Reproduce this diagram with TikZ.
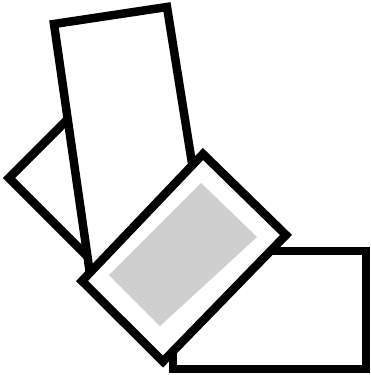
\documentclass[tikz,border=0pt]{standalone}
\usepackage{tikz}
\tikzset{
  card/.style={draw=black, fill=white, line width=8.5pt, line join=miter},
  speck/.style={fill=black!19, draw=none}
}

\begin{document}
\begin{tikzpicture}[x=1pt,y=-1pt]
  \useasboundingbox (0,0) rectangle (370,375);

  % corners, in pixel units of the reference
  \coordinate (kiteL) at (9,178);
  \coordinate (kiteU) at (86.8,100.2);
  \coordinate (kiteD) at (90.3,259.3);
  \coordinate (kiteF) at (168,181.5);

  \coordinate (tallTL) at (54,24);
  \coordinate (tallTR) at (167,7);
  \coordinate (tallBR) at (207,257);
  \coordinate (tallBL) at (90,274);

  \coordinate (lowTL) at (173,251);
  \coordinate (lowBR) at (366,369);

  \coordinate (midT) at (203,154);
  \coordinate (midR) at (286,235);
  \coordinate (midB) at (163,361.5);
  \coordinate (midL) at (82,281);

  \coordinate (spT) at (201,183);
  \coordinate (spR) at (257,237);
  \coordinate (spB) at (160,326);
  \coordinate (spL) at (109,275);

  % back to front
  \draw[card] (kiteL) -- (kiteU) -- (kiteF) -- (kiteD) -- cycle;
  \draw[card] (tallTL) -- (tallTR) -- (tallBR) -- (tallBL) -- cycle;
  \draw[card] (lowTL) rectangle (lowBR);
  \draw[card] (midT) -- (midR) -- (midB) -- (midL) -- cycle;
  \fill[speck] (spT) -- (spR) -- (spB) -- (spL) -- cycle;
\end{tikzpicture}
\end{document}
